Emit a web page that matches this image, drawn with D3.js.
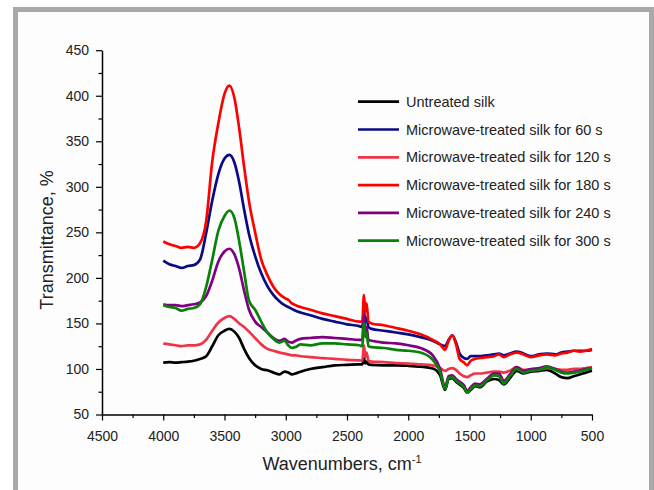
<!DOCTYPE html>
<html>
<head>
<meta charset="utf-8">
<script src="https://cdn.jsdelivr.net/npm/d3@7"></script>
<style>
  html, body { margin: 0; padding: 0; background: #fff; }
  svg { display: block; font-family: "Liberation Sans", Arial, sans-serif; }
  .tick text { fill: #222; }
</style>
</head>
<body>
<svg id="chart" width="654" height="490"></svg>
<script>
// wavenumber grid (cm-1), shared by every spectrum
const WN = [4000, 3950, 3900, 3850, 3800, 3750, 3700, 3650, 3600, 3550,
            3500, 3460, 3420, 3380, 3340, 3300, 3250, 3200, 3150, 3100,
            3050, 3010, 2980, 2950, 2920, 2880, 2800, 2700, 2600, 2500,
            2400, 2375, 2362, 2350, 2340, 2325, 2300, 2200, 2100, 2000,
            1900, 1800, 1740, 1700, 1670, 1640, 1610, 1580, 1545, 1520,
            1490, 1455, 1415, 1360, 1300, 1260, 1220, 1170, 1115, 1060,
            1000, 930, 870, 800, 750, 700, 650, 600, 550, 500];

const UNTREATED = [107, 107.5, 107, 107.5, 108, 109, 111, 114, 125, 137,
                   142, 144, 141, 134, 122, 112, 104, 100, 98.5, 96,
                   94, 97, 96, 94, 95, 97, 100, 102, 104, 104.5,
                   105, 105, 112, 106, 108, 105, 104.5, 104, 104, 103.5,
                   102.5, 100.5, 93, 77, 89, 90, 86, 83, 79, 74,
                   77, 81, 80, 86, 89, 88, 83, 90, 98, 95,
                   97, 98, 99, 95, 91, 90, 92, 94, 96, 98];
const MW60 = [219, 215, 213, 211, 213, 214, 220, 249, 285, 314,
              331, 335, 327, 305, 275, 248, 224, 205, 191, 181,
              174, 170, 168, 166, 164, 162, 159, 155, 152, 149,
              147, 146, 163, 152, 156, 146, 144, 142, 140, 138,
              135, 131, 127, 125, 132, 137, 129, 117, 112, 111,
              114, 114, 114, 115, 116, 117, 115, 117, 119, 117,
              114, 116, 117, 116, 118, 119, 120, 120, 120, 121];
const MW120 = [128, 127, 126, 125, 126, 126, 127, 132, 142, 151,
               156, 158, 155, 150, 146, 141, 134, 127, 122, 120,
               118, 117, 116, 115, 115, 114, 113, 112, 111, 110,
               109.5, 109, 126, 113, 118, 109, 108, 107.5, 106.5, 106,
               105, 104, 101, 98, 100, 101, 99, 95, 92, 91,
               93, 95, 95, 96, 97, 97, 96, 98, 102, 99,
               99, 100, 101, 100, 99, 99, 100, 100, 101, 102];
const MW180 = [240, 237, 235, 233, 234, 233, 238, 262, 328, 370,
               402, 411, 398, 364, 322, 284, 250, 220, 203, 190,
               182, 178, 176, 172, 170, 168, 165, 161, 158, 155,
               152, 152, 181, 163, 172, 152, 150, 148, 145, 142,
               138, 132, 127, 121, 131, 137, 127, 111, 107, 104,
               109, 111, 112, 113, 114, 116, 113, 116, 118, 116,
               113, 115, 116, 115, 117, 118, 120, 119, 120, 122];
const MW240 = [171, 170, 170, 169, 170, 171, 173, 180, 197, 218,
               229, 232, 226, 210, 186, 165, 152, 146, 140, 134,
               131, 133, 130, 129, 131, 133, 134, 135, 134, 133,
               132, 132, 158, 140, 146, 132, 131, 129, 128, 126,
               123, 115, 100, 80, 92, 93, 89, 86, 82, 76,
               80, 84, 83, 89, 95, 95, 87, 94, 102, 98,
               100, 101, 103, 100, 97, 96, 97, 98, 100, 101];
const MW300 = [170, 168, 167, 164, 166, 167, 171, 190, 220, 252,
               268, 274, 266, 240, 207, 175, 165, 152, 140, 133,
               129, 131, 126, 123, 124, 127, 126, 128, 128, 127,
               126, 125, 150, 135, 140, 125, 124, 123, 121, 120,
               118, 110, 97, 78, 90, 91, 87, 84, 80, 74,
               78, 82, 81, 87, 93, 92, 84, 92, 100, 96,
               98, 99, 102, 99, 96, 95, 96, 97, 99, 101];

const SERIES_NAMES = ["Untreated silk", "Microwave-treated silk for 60 s",
  "Microwave-treated silk for 120 s", "Microwave-treated silk for 180 s",
  "Microwave-treated silk for 240 s", "Microwave-treated silk for 300 s"];
const SERIES_VALUES = [UNTREATED, MW60, MW120, MW180, MW240, MW300];
const COLORS = ["#000000", "#0a0a86", "#f03447", "#ff0000", "#800080", "#088208"];

const X_TICKS = [4500, 4000, 3500, 3000, 2500, 2000, 1500, 1000, 500];
const Y_TICKS = [50, 100, 150, 200, 250, 300, 350, 400, 450];

const svg = d3.select("#chart");

// grey frame round the picture, open at the bottom
svg.append("rect").attr("x", 18).attr("y", 12).attr("width", 631).attr("height", 478)
  .attr("fill", "#fdfdfd");
svg.append("path").attr("d", "M15.5,490V9.5H651.5V490")
  .attr("fill", "none").attr("stroke", "#a9a9ab").attr("stroke-width", 5);

const L = 102, R = 592, T = 50.2, B = 414.5;
const x = d3.scaleLinear([4500, 500], [L, R]);
const y = d3.scaleLinear([50, 450], [B, T]);

const line = d3.line().x((d) => x(d[0])).y((d) => y(d[1])).curve(d3.curveMonotoneX);
const g = svg.append("g");
SERIES_VALUES.forEach((vals, i) => {
  g.append("path").datum(WN.map((w, k) => [w, vals[k]]))
    .attr("d", line).attr("fill", "none").attr("stroke", COLORS[i])
    .attr("stroke-width", 2.7).attr("stroke-linejoin", "round");
});

// axes: major + minor ticks
const minorX = d3.range(4250, 500, -500);
const minorY = d3.range(75, 450, 50);
const fmt = d3.format("d");

svg.append("g").attr("transform", `translate(0,${B})`)
  .call(d3.axisBottom(x).tickValues(X_TICKS).tickFormat(fmt)
    .tickSize(6).tickSizeOuter(0).tickPadding(11));
svg.append("g").attr("transform", `translate(0,${B})`)
  .call(d3.axisBottom(x).tickValues(minorX).tickSize(3.5).tickFormat(""))
  .call((s) => s.select(".domain").remove());
svg.append("g").attr("transform", `translate(${L},0)`)
  .call(d3.axisLeft(y).tickValues(Y_TICKS).tickFormat(fmt)
    .tickSize(6).tickSizeOuter(0).tickPadding(7));
svg.append("g").attr("transform", `translate(${L},0)`)
  .call(d3.axisLeft(y).tickValues(minorY).tickSize(3.5).tickFormat(""))
  .call((s) => s.select(".domain").remove());

svg.selectAll(".domain").attr("stroke", "#000").attr("stroke-width", 1.5);
svg.selectAll(".tick line").attr("stroke", "#000").attr("stroke-width", 1.2);
svg.selectAll(".tick text").attr("font-size", 14)
  .attr("font-family", "'Liberation Sans', Arial, sans-serif");

svg.append("text").attr("x", 342).attr("y", 470).attr("text-anchor", "middle")
  .attr("font-size", 18).attr("fill", "#222")
  .text("Wavenumbers, cm")
  .append("tspan").attr("dy", -7).attr("font-size", 11).text("-1");
svg.append("text").attr("transform", "translate(53,240) rotate(-90)")
  .attr("text-anchor", "middle").attr("font-size", 18).attr("fill", "#222")
  .text("Transmittance, %");

// legend
const lg = svg.append("g");
SERIES_NAMES.forEach((name, i) => {
  const yy = 101.7 + i * 27.8;
  lg.append("line").attr("x1", 358).attr("x2", 399).attr("y1", yy).attr("y2", yy)
    .attr("stroke", COLORS[i]).attr("stroke-width", 2.7);
  lg.append("text").attr("x", 406).attr("y", yy + 5).attr("font-size", 14.5)
    .attr("fill", "#222").text(name);
});
</script>
</body>
</html>
